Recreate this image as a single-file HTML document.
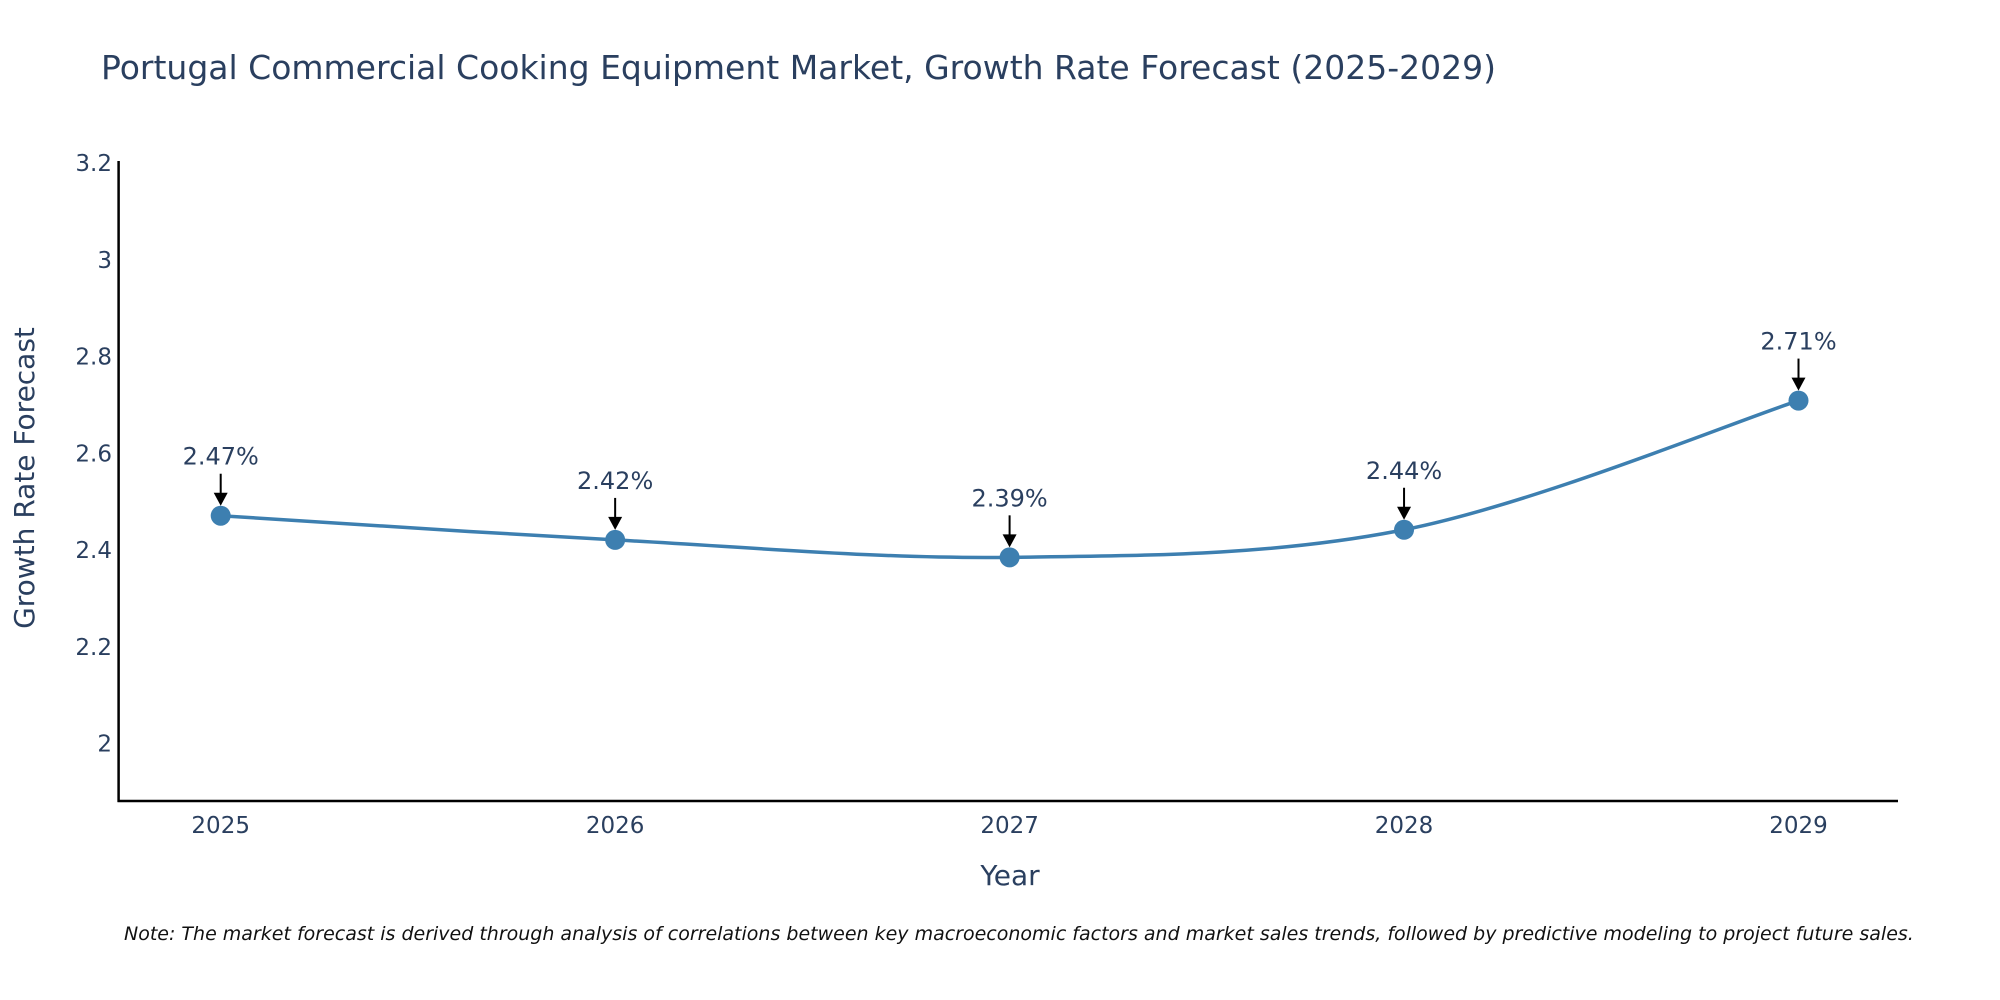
<!DOCTYPE html>
<html><head><meta charset="utf-8"><style>
html,body{margin:0;padding:0;background:#fff;width:2000px;height:1000px;overflow:hidden;}
text{font-family:"DejaVu Sans","Liberation Sans",sans-serif;}
</style></head><body>
<svg id="chart" width="2000" height="1000" xmlns="http://www.w3.org/2000/svg">
<text x="101" y="79" font-size="33" fill="#2a3f5f">Portugal Commercial Cooking Equipment Market, Growth Rate Forecast (2025-2029)</text>
<g id="yticks"></g>
<g id="xticks"></g>
<line x1="118.6" y1="161" x2="118.6" y2="802" stroke="#000" stroke-width="2.5"/>
<line x1="117.5" y1="801" x2="1898" y2="801" stroke="#000" stroke-width="2.5"/>
<path id="line" fill="none" stroke="#3d7fb0" stroke-width="3.5"/>
<g id="points"></g>
<g id="annots"></g>
<text x="1010" y="885" font-size="28" fill="#2a3f5f" text-anchor="middle">Year</text>
<text x="34" y="478" font-size="28" fill="#2a3f5f" text-anchor="middle" transform="rotate(-90 34 478)">Growth Rate Forecast</text>
<text x="124" y="940" font-size="19" font-style="italic" fill="#111">Note: The market forecast is derived through analysis of correlations between key macroeconomic factors and market sales trends, followed by predictive modeling to project future sales.</text>
</svg>
<script>
const years=[2025,2026,2027,2028,2029];
const values=[2.471,2.421,2.385,2.442,2.709];
const labels=["2.47%","2.42%","2.39%","2.44%","2.71%"];
const yTickVals=[2,2.2,2.4,2.6,2.8,3,3.2];
const yTickLabels=["2","2.2","2.4","2.6","2.8","3","3.2"];
const NS="http://www.w3.org/2000/svg";
function xs(v){return 220.7+(v-2025)*394.45;}
function ys(v){return 743.6-(v-2)*483.8;}
function mk(t,a,p){const e=document.createElementNS(NS,t);for(const k in a)e.setAttribute(k,a[k]);p.appendChild(e);return e;}
const yt=document.getElementById('yticks');
yTickVals.forEach((v,i)=>{const t=mk('text',{x:112,y:ys(v)+8,'font-size':23,fill:'#2a3f5f','text-anchor':'end'},yt);t.textContent=yTickLabels[i];

});
const xt=document.getElementById('xticks');
years.forEach(y=>{const t=mk('text',{x:xs(y),y:833,'font-size':23,fill:'#2a3f5f','text-anchor':'middle'},xt);t.textContent=y;

});
const P=years.map((y,i)=>[xs(y),ys(values[i])]);
let d=`M${P[0][0]},${P[0][1]}`;const s=0.5/3*2;
for(let i=0;i<P.length-1;i++){const p0=P[i-1]||P[i],p1=P[i],p2=P[i+1],p3=P[i+2]||P[i+1];
const c1=[p1[0]+(p2[0]-p0[0])*s/2,p1[1]+(p2[1]-p0[1])*s/2];const c2=[p2[0]-(p3[0]-p1[0])*s/2,p2[1]-(p3[1]-p1[1])*s/2];
d+=` C${c1[0]},${c1[1]} ${c2[0]},${c2[1]} ${p2[0]},${p2[1]}`;}
document.getElementById('line').setAttribute('d',d);
const pg=document.getElementById('points'),ag=document.getElementById('annots');
P.forEach((p,i)=>{const c=mk('circle',{cx:p[0],cy:p[1],r:10,fill:'#3d7fb0'},pg);


const l=mk('line',{x1:p[0],y1:p[1]-42,x2:p[0],y2:p[1]-22,stroke:'#000','stroke-width':2},ag);


const h=mk('polygon',{points:`${p[0]-7},${p[1]-23} ${p[0]+7},${p[1]-23} ${p[0]},${p[1]-10}`,fill:'#000'},ag);


const t=mk('text',{x:p[0],y:p[1]-51,'font-size':24,fill:'#2a3f5f','text-anchor':'middle'},ag);t.textContent=labels[i];

});
</script>
</body></html>
